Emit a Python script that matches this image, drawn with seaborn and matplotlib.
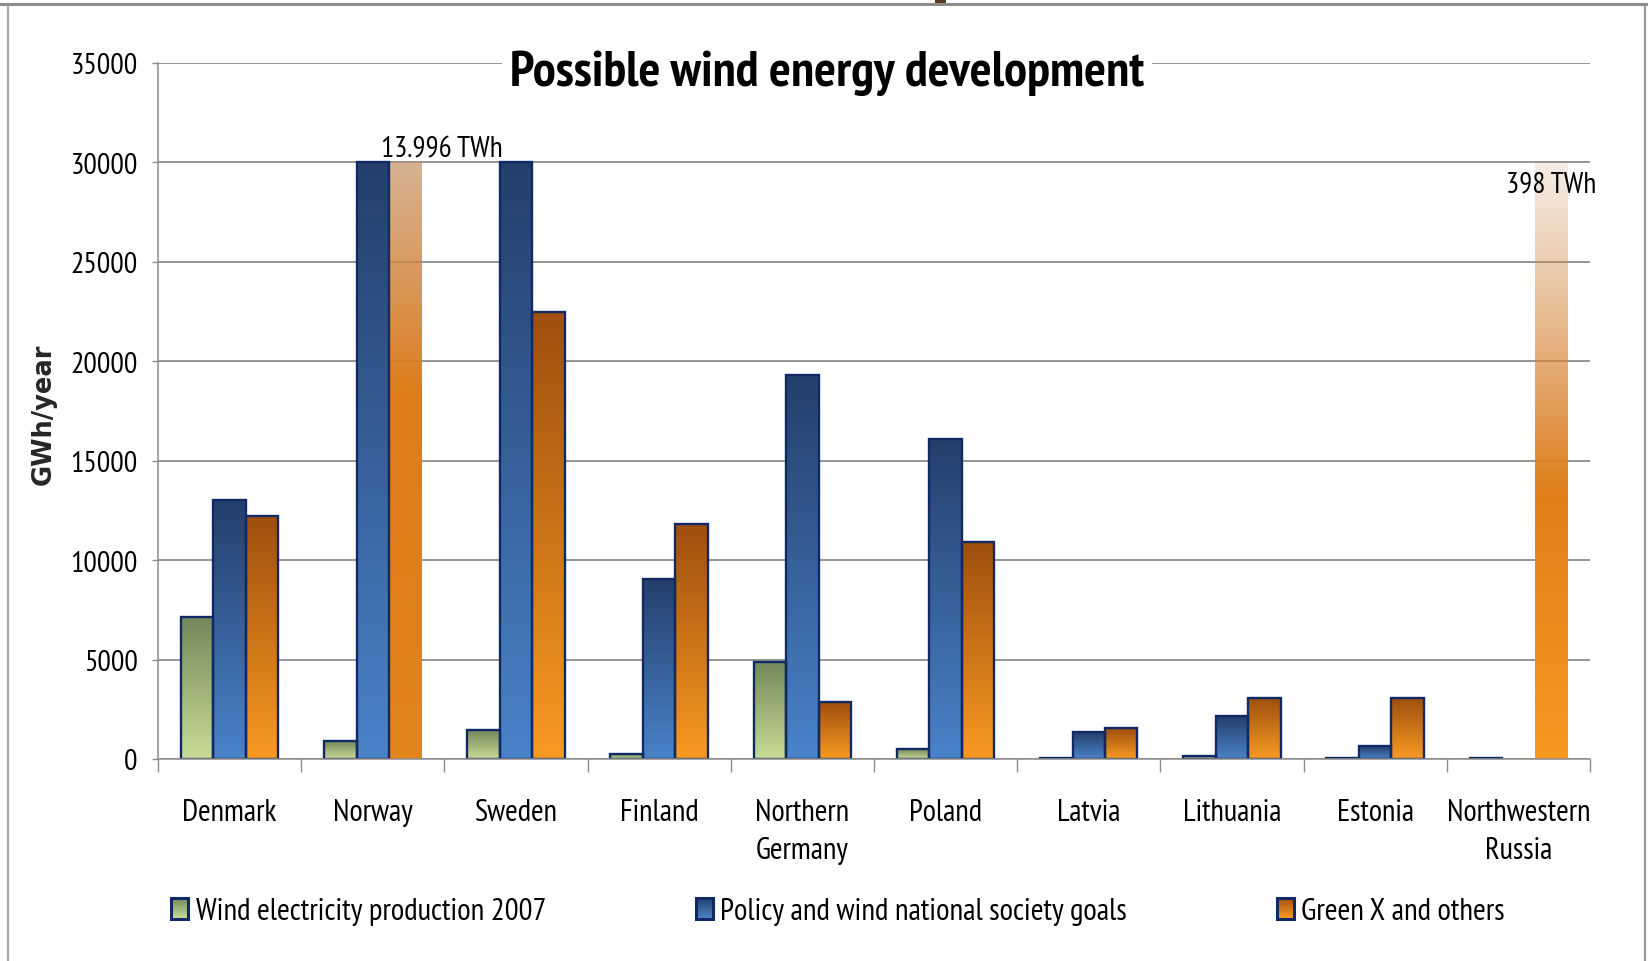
import numpy as np
import pandas as pd
import matplotlib
matplotlib.use("Agg")
import matplotlib.pyplot as plt
import seaborn as sns
from matplotlib.colors import to_rgb
from matplotlib.patches import Rectangle
from matplotlib.legend_handler import HandlerBase

# ---- data (GWh/year) ----
countries = ["Denmark", "Norway", "Sweden", "Finland", "Northern\nGermany",
             "Poland", "Latvia", "Lithuania", "Estonia", "Northwestern\nRussia"]
series_names = ["Wind electricity production 2007",
                "Policy and wind national society goals",
                "Green X and others"]
wind_2007 = [7150, 900, 1450, 250, 4900, 500, 50, 150, 50, 60]
policy_goals = [13000, 30000, 30000, 9050, 19300, 16100, 1350, 2150, 650, 0]
green_x = [12200, 13996000, 22500, 11800, 2850, 10900, 1550, 3050, 3050, 398000]
y_ticks = list(range(0, 35001, 5000))
axis_cap = 30000  # values above this run off the chart

df = pd.DataFrame({
    "country": countries * 3,
    "series": np.repeat(series_names, len(countries)),
    "gwh": wind_2007 + policy_goals + green_x,
})
df["shown"] = df["gwh"].clip(upper=axis_cap)

# ---- style ----
sns.set_theme(style="white")
plt.rcParams["font.family"] = ["PT Sans Narrow", "DejaVu Sans"]
plt.rcParams["text.color"] = "black"
plt.rcParams["xtick.color"] = "black"
plt.rcParams["ytick.color"] = "black"

edge = "#112a66"
grid_grey = "#8c8c8c"
ramps = {  # (top colour, bottom colour)
    series_names[0]: ("#73875a", "#c8dd96"),
    series_names[1]: ("#243f6b", "#4a83c9"),
    series_names[2]: ("#9e4f0e", "#f99a22"),
}
mid = [tuple((np.array(to_rgb(a)) + np.array(to_rgb(b))) / 2) for a, b in ramps.values()]
# off-chart bars: annotation offset (points), fade start (fraction of height), top opacity
overflow_style = {
    "Norway": dict(offset=(26, 4.5), fade_from=0.62, top_alpha=0.68,
                   low="#e3831c", midc="#de7c1a", high="#c48e5e"),
    "Northwestern\nRussia": dict(offset=(0, -21), fade_from=0.45, top_alpha=0.16,
                                 low="#f8981f", midc="#e07e1a", high="#c98b55"),
}


def ramp_image(top, bottom, n=256):
    t = np.linspace(0, 1, n)[:, None, None]
    top, bottom = np.array(to_rgb(top)), np.array(to_rgb(bottom))
    return bottom * (1 - t) + top * t


def overflow_image(style, n=256):
    t = np.linspace(0, 1, n)
    f = style["fade_from"]
    low, midc, high = (np.array(to_rgb(style[k])) for k in ("low", "midc", "high"))
    rgb = np.where((t < f)[:, None],
                   low + (midc - low) * (t / f)[:, None],
                   midc + (high - midc) * ((t - f) / (1 - f))[:, None])
    alpha = np.where(t < f, 1.0, 1.0 - (1 - style["top_alpha"]) * (t - f) / (1 - f))
    return np.concatenate([rgb, alpha[:, None]], axis=1)[:, None, :]


class GradientSwatch(HandlerBase):
    def __init__(self, top, bottom):
        super().__init__()
        self.top, self.bottom = np.array(to_rgb(top)), np.array(to_rgb(bottom))

    def create_artists(self, legend, orig_handle, xdescent, ydescent,
                       width, height, fontsize, trans):
        arts = []
        n = 12
        for i in range(n):
            t = (i + 0.5) / n
            c = self.bottom * (1 - t) + self.top * t
            arts.append(Rectangle((-xdescent, -ydescent + height * i / n), width,
                                  height / n + 0.3, facecolor=c, edgecolor="none",
                                  transform=trans))
        arts.append(Rectangle((-xdescent, -ydescent), width, height, facecolor="none",
                              edgecolor=edge, linewidth=2.2, transform=trans))
        return arts


# ---- figure ----
fig = plt.figure(figsize=(16.49, 9.62), dpi=100)
ax = fig.add_axes([0.0958, 0.2100, 0.8684, 0.7235])

bar_width = 0.68
sns.barplot(data=df, x="country", y="shown", hue="series", hue_order=series_names,
            palette=mid, width=bar_width, saturation=1, errorbar=None,
            edgecolor=edge, linewidth=1.7, legend=False, ax=ax)

# gradient fills clipped to each bar
step = bar_width / len(series_names)
for bar in list(ax.patches):
    h = bar.get_height()
    x0, w = bar.get_x(), bar.get_width()
    centre = x0 + w / 2
    ci = int(round(centre))
    si = int(round((centre - ci) / step)) + 1
    name = series_names[si]
    country = countries[ci]
    raw = df[(df.series == name) & (df.country == country)]["gwh"].iloc[0]
    if h <= 0:
        bar.set_visible(False)
        continue
    off_chart = raw > axis_cap
    if off_chart:
        style = overflow_style[country]
        img = overflow_image(style)
        bar.set_edgecolor("none")
    else:
        img = ramp_image(*ramps[name])
    im = ax.imshow(img, extent=[x0, x0 + w, 0, h], origin="lower", aspect="auto",
                   interpolation="bilinear", zorder=1.8)
    im.set_clip_path(bar)
    bar.set_facecolor("none")
    bar.set_zorder(2)

    if off_chart:
        label = f"{raw / 1000:,.0f}".replace(",", ".") + " TWh"
        ax.annotate(label, xy=(centre, h), xytext=style["offset"],
                    textcoords="offset points", ha="center", va="baseline",
                    fontsize=21, color="black", zorder=6)

# axes
ax.set_xlim(-0.5, len(countries) - 0.5)
ax.set_ylim(0, 35000)
ax.set_yticks(y_ticks)
ax.set_yticklabels([str(v) for v in y_ticks])
ax.set_xticks(np.arange(-0.5, len(countries), 1), minor=True)
ax.set_xlabel("")
ax.tick_params(axis="both", which="both", bottom=True, left=True)
ax.tick_params(axis="x", which="major", length=0, pad=28, labelsize=22)
ax.tick_params(axis="x", which="minor", length=9.5, width=1.0, color=grid_grey)
ax.tick_params(axis="y", length=4.5, width=1.0, color=grid_grey, pad=10, labelsize=21.5)
for lab in ax.get_xticklabels():
    lab.set_linespacing(1.45)

ax.yaxis.grid(True, color=grid_grey, linewidth=1.3)
ax.set_axisbelow(True)
for side in ("top", "right"):
    ax.spines[side].set_visible(False)
for side in ("left", "bottom"):
    ax.spines[side].set_color(grid_grey)
    ax.spines[side].set_linewidth(1.1)

ax.set_ylabel("GWh/year", fontsize=18.5, fontweight="bold", family="DejaVu Sans")
ax.yaxis.set_label_coords(-0.080, 0.497)
ax.yaxis.label.set_verticalalignment("center")

ax.text(0.4672, 0.968, "Possible wind energy development", transform=ax.transAxes,
        ha="center", va="baseline", fontsize=37, fontweight="bold", zorder=5,
        bbox=dict(facecolor="white", edgecolor="none", pad=6))

handles = [Rectangle((0, 0), 1, 1) for _ in series_names]
fig.legend(handles=handles, labels=series_names,
           handler_map={h: GradientSwatch(*ramps[n]) for h, n in zip(handles, series_names)},
           loc="center", bbox_to_anchor=(838 / 1649, 1 - 912 / 962), ncol=3,
           frameon=False, fontsize=22.2, handlelength=0.55, handleheight=0.68,
           handletextpad=0.25, columnspacing=4.85, borderaxespad=0)

# page frame
W, H = 1649, 962
fig.add_artist(Rectangle((0, 1 - 7 / H), 1, 3 / H, transform=fig.transFigure,
                         facecolor="#8c8c8c", edgecolor="none"))
fig.add_artist(Rectangle((935 / W, 1 - 4 / H), 11 / W, 4 / H, transform=fig.transFigure,
                         facecolor="#5b3a28", edgecolor="none"))
fig.add_artist(plt.Line2D([8 / W, 8 / W], [0, 1 - 7 / H], transform=fig.transFigure,
                          color="#a6a6a6", linewidth=1.6))
fig.add_artist(plt.Line2D([1645 / W, 1645 / W], [0, 1 - 7 / H], transform=fig.transFigure,
                          color="#9a9a9a", linewidth=1.6))

fig.savefig("out.png", dpi=100, facecolor="white")
